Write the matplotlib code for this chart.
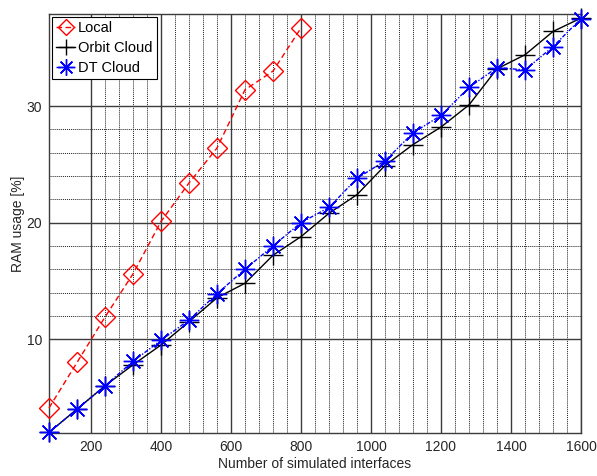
import numpy as np
import matplotlib.pyplot as plt

plt.rcParams['font.family'] = ['Liberation Sans', 'DejaVu Sans']

# number of simulated interfaces
interfaces = [80, 160, 240, 320, 400, 480, 560, 640, 720, 800,
              880, 960, 1040, 1120, 1200, 1280, 1360, 1440, 1520, 1600]

# RAM usage [%]
local_ram = [4.1, 8.0, 11.9, 15.6, 20.1, 23.4, 26.4, 31.4, 33.0, 36.7]
orbit_ram = [2.0, 4.0, 6.0, 7.8, 9.5, 11.5, 13.55, 14.8, 17.2, 18.8,
             20.8, 22.4, 24.9, 26.7, 28.2, 30.1, 33.2, 34.4, 36.4, 37.55]
dt_ram = [2.0, 4.0, 6.0, 8.1, 9.9, 11.65, 13.9, 16.0, 18.0, 20.0,
          21.3, 23.8, 25.3, 27.7, 29.2, 31.6, 33.3, 33.1, 35.1, 37.5]

x_major = [200, 400, 600, 800, 1000, 1200, 1400, 1600]
y_major = [10, 20, 30]

fig = plt.figure(figsize=(5.97, 4.76), dpi=100)
ax = fig.add_axes([49 / 597, 43 / 476, 532 / 597, 419 / 476])

ax.plot(interfaces[:len(local_ram)], local_ram, color='red', linestyle=(0, (4, 2.5)),
        linewidth=1, marker='D', markersize=10, markerfacecolor='none',
        markeredgecolor='red', markeredgewidth=1, label='Local', clip_on=False, zorder=3)
ax.plot(interfaces, orbit_ram, color='black', linestyle='-', linewidth=1,
        marker='+', markersize=14, markeredgewidth=1, label='Orbit Cloud',
        clip_on=False, zorder=4)
ax.plot(interfaces, dt_ram, color='blue', linestyle=(0, (3, 1.2, 1, 1.2)), linewidth=1,
        marker=(8, 2, 0), markersize=14, markeredgewidth=1, label='DT Cloud',
        clip_on=False, zorder=5)

ax.set_xlim(80, 1600)
ax.set_ylim(1.95, 37.9)
ax.set_xticks(x_major)
ax.set_yticks(y_major)

# minor grid only inside the labelled span
ax.set_xticks([v for v in range(240, 1600, 40) if v % 200], minor=True)
ax.set_yticks([v for v in range(12, 30, 2) if v % 10], minor=True)

ax.grid(which='major', color='#3c3c3c', linestyle='-', linewidth=1)
ax.grid(which='minor', color='#202020', linestyle=(0, (1, 1)), linewidth=0.7)
ax.set_axisbelow(True)
ax.tick_params(which='both', direction='in', length=0, labelsize=10,
               colors='#262626', pad=5)
for s in ax.spines.values():
    s.set_color('#3c3c3c')
    s.set_linewidth(1)

ax.set_xlabel('Number of simulated interfaces', fontsize=10, color='#262626', labelpad=2)
ax.set_ylabel('RAM usage [%]', fontsize=10, color='#262626', labelpad=1)

leg = ax.legend(loc='upper left', fontsize=10.5, fancybox=False, framealpha=1,
                edgecolor='black', handlelength=1.3, handletextpad=0.2,
                borderaxespad=0.2, borderpad=0.3, labelspacing=0.4,
                markerscale=0.85)
leg.get_frame().set_linewidth(0.8)

fig.savefig('out.png', dpi=100)
